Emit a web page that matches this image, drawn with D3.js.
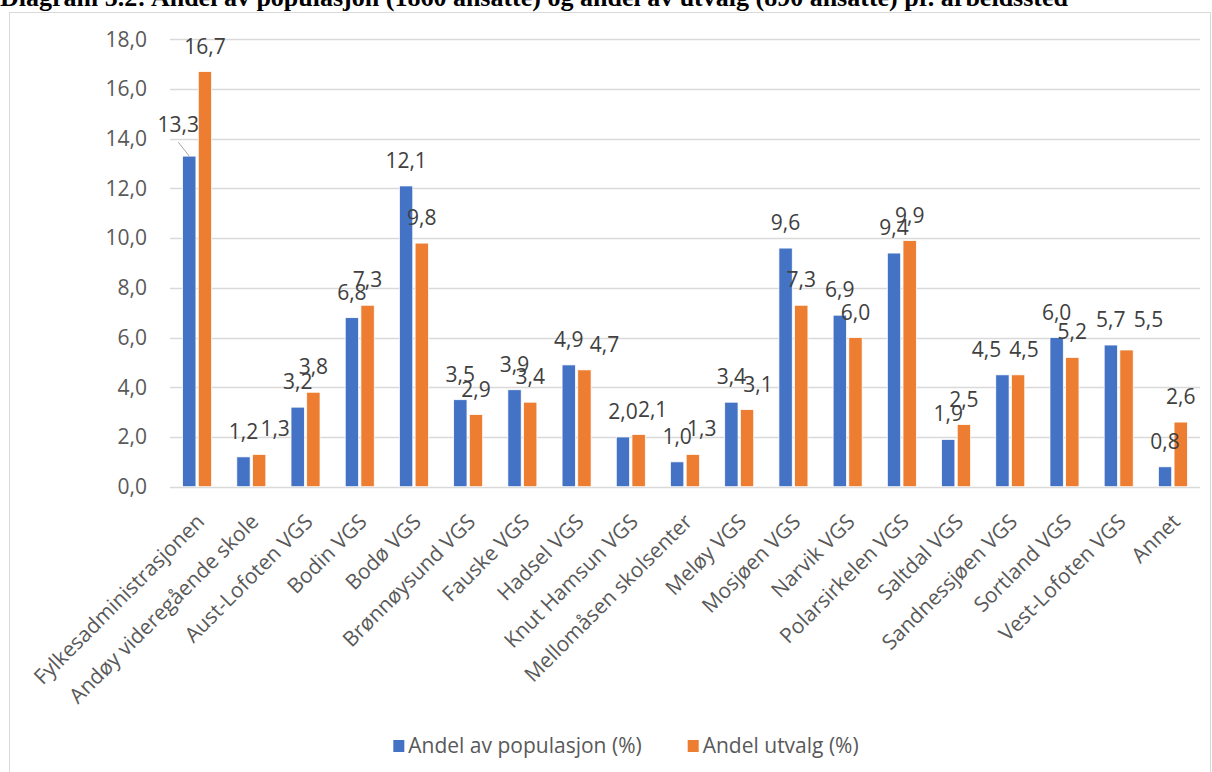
<!DOCTYPE html>
<html>
<head>
<meta charset="utf-8">
<script src="https://cdn.jsdelivr.net/npm/d3@7"></script>
<style>
    html, body { margin: 0; padding: 0; background: #fff; overflow: hidden; }
    svg { display: block; }
</style>
</head>
<body>
<svg id="chart" width="1212" height="772"></svg>
<script>
/*jslint browser: true*/

var categories = ['Fylkesadministrasjonen', 'Andøy videregående skole', 'Aust-Lofoten VGS',
    'Bodin VGS', 'Bodø VGS', 'Brønnøysund VGS', 'Fauske VGS', 'Hadsel VGS', 'Knut Hamsun VGS',
    'Mellomåsen skolsenter', 'Meløy VGS', 'Mosjøen VGS', 'Narvik VGS', 'Polarsirkelen VGS',
    'Saltdal VGS', 'Sandnessjøen VGS', 'Sortland VGS', 'Vest-Lofoten VGS', 'Annet'];

var seriesNames = ['Andel av populasjon (%)', 'Andel utvalg (%)'];

var populasjon = [13.3, 1.2, 3.2, 6.8, 12.1, 3.5, 3.9, 4.9, 2.0, 1.0, 3.4, 9.6, 6.9, 9.4, 1.9, 4.5, 6.0, 5.7, 0.8];
var utvalg = [16.7, 1.3, 3.8, 7.3, 9.8, 2.9, 3.4, 4.7, 2.1, 1.3, 3.1, 7.3, 6.0, 9.9, 2.5, 4.5, 5.2, 5.5, 2.6];

var yTicks = [0, 2, 4, 6, 8, 10, 12, 14, 16, 18];

var title = 'Diagram 5.2: Andel av populasjon (1860 ansatte) og andel av utvalg (890 ansatte) pr. arbeidssted';

(function (d3) {
    'use strict';

    var colors = ['#4472C4', '#ED7D31'];
    var font = '"Open Sans", "Noto Sans", sans-serif';
    var svg = d3.select('#chart');

    // labels Excel pushed aside to avoid overlaps: [series][category] -> [dx, dy]
    var labelNudge = [
        {0: [-11, -6], 15: [-16, 0]},
        {1: [16, 0], 7: [20, 0], 8: [14, 0], 9: [9, 0], 10: [11, 0], 15: [6, 0], 17: [22, -5]}
    ];

    var nb = d3.formatLocale({decimal: ',', thousands: ' ', grouping: [3], currency: ['', '']});
    var fmt = nb.format('.1f');

    svg.append('rect')
        .attr('x', 9.5).attr('y', 12.5)
        .attr('width', 1201).attr('height', 800)
        .style('fill', '#fff')
        .style('stroke', '#D9D9D9');

    svg.append('text')
        .attr('x', 0).attr('y', 6)
        .style('font-family', '"Liberation Serif", "Times New Roman", serif')
        .style('font-weight', 'bold')
        .style('font-size', '26px')
        .text(title);

    var x0 = d3.scaleBand().domain(categories).range([170, 1200]);
    var bw = x0.bandwidth();
    var x1 = d3.scaleBand().domain([0, 1]).range([bw / 2 - 14.5, bw / 2 + 14.5]).paddingInner(0.15);
    var y = d3.scaleLinear().domain([0, 18]).range([486.7, 39.3]);

    // grid
    svg.append('g').selectAll('line')
        .data(yTicks).enter()
      .append('line')
        .attr('x1', 170).attr('x2', 1200)
        .attr('y1', function (d) { return Math.round(y(d)) + 0.5; })
        .attr('y2', function (d) { return Math.round(y(d)) + 0.5; })
        .style('stroke', '#D9D9D9')
        .style('stroke-width', 1.5);

    // y axis labels
    var yAxis = d3.axisLeft(y).tickValues(yTicks).tickFormat(fmt).tickSize(0).tickPadding(23);
    var yg = svg.append('g').attr('transform', 'translate(170,0)').call(yAxis);
    yg.select('.domain').remove();
    yg.selectAll('text')
        .style('font-family', font)
        .style('font-size', '21px')
        .style('fill', '#595959');

    var series = [populasjon, utvalg];

    var groups = svg.append('g').selectAll('g')
        .data(series).enter()
      .append('g')
        .style('fill', function (d, i) { return colors[i]; });

    groups.selectAll('rect')
        .data(function (d, s) { return d.map(function (v, i) { return {s: s, i: i, v: v}; }); })
        .enter()
      .append('rect')
        .attr('x', function (d) { return x0(categories[d.i]) + x1(d.s); })
        .attr('y', function (d) { return y(d.v); })
        .attr('width', x1.bandwidth())
        .attr('height', function (d) { return y(0) - y(d.v); })
        .style('stroke', '#fff')
        .style('stroke-width', 0.75);

    // data labels
    var labels = [];
    series.forEach(function (vals, s) {
        vals.forEach(function (v, i) {
            var n = labelNudge[s][i] || [0, 0];
            var cx = x0(categories[i]) + x1(s) + x1.bandwidth() / 2;
            labels.push({s: s, i: i, v: v, bx: cx, by: y(v), x: cx + n[0], y: y(v) - 18 + n[1]});
        });
    });

    svg.append('g').selectAll('line')
        .data(labels.filter(function (d) { return d.s === 0 && d.i === 0; })).enter()
      .append('line')
        .attr('x1', function (d) { return d.x; })
        .attr('y1', function (d) { return d.y + 10; })
        .attr('x2', function (d) { return d.bx; })
        .attr('y2', function (d) { return d.by; })
        .style('stroke', '#A6A6A6')
        .style('stroke-width', 1);

    svg.append('g').selectAll('text')
        .data(labels).enter()
      .append('text')
        .attr('x', function (d) { return d.x; })
        .attr('y', function (d) { return d.y; })
        .attr('text-anchor', 'middle')
        .style('font-family', font)
        .style('font-size', '21px')
        .style('fill', '#404040')
        .text(function (d) { return fmt(d.v); });

    // category labels
    svg.append('g').selectAll('text')
        .data(categories).enter()
      .append('text')
        .attr('transform', function (d) {
            return 'translate(' + (x0(d) + bw / 2 + 8.5) + ',523) rotate(-45)';
        })
        .attr('text-anchor', 'end')
        .style('font-family', font)
        .style('font-size', '21px')
        .style('fill', '#595959')
        .text(function (d) { return d; });

    // legend
    var legend = svg.append('g');
    var items = legend.selectAll('g')
        .data(seriesNames).enter()
      .append('g');
    items.append('rect')
        .attr('y', 740)
        .attr('width', 11).attr('height', 12)
        .style('fill', function (d, i) { return colors[i]; });
    items.append('text')
        .attr('x', 15).attr('y', 753)
        .style('font-family', font)
        .style('font-size', '21px')
        .style('fill', '#595959')
        .text(function (d) { return d; });

    var widths = [];
    items.each(function () { widths.push(this.getBBox().width); });
    var gap = 46;
    var total = d3.sum(widths) + gap;
    var start = 626 - total / 2;
    items.attr('transform', function (d, i) {
        return 'translate(' + (i === 0 ? start : start + widths[0] + gap) + ',0)';
    });

}(window.d3));
</script>
</body>
</html>
